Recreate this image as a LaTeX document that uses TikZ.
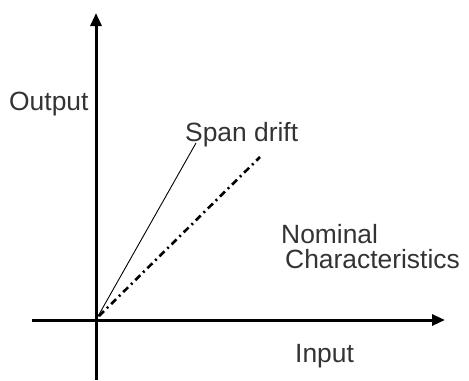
\documentclass[tikz,border=0pt]{standalone}
\usepackage{fontspec}
\setmainfont{Liberation Sans}
\usetikzlibrary{arrows.meta}
\begin{document}
\begin{tikzpicture}[x=1bp, y=-1bp, every node/.style={inner sep=0pt, font=\fontsize{26.5}{30}\selectfont, text=black!80}]
\useasboundingbox (0,0) rectangle (469,380);
\coordinate (O) at (96,320);
\coordinate (ybot) at (96,380);
\coordinate (ytop) at (96,13);
\coordinate (xleft) at (32,320);
\coordinate (xright) at (445,320);
\coordinate (span) at (196,143);
\coordinate (nom) at (260,157);
\draw[line width=3bp, -{Triangle[length=13bp,width=11bp]}] (ybot) -- (ytop);
\draw[line width=3bp, -{Triangle[length=13bp,width=11bp]}] (xleft) -- (xright);
\draw[line width=0.9bp] ([shift={(1,-2)}]O) -- (span);
\draw[line width=2.6bp, dash pattern=on 7bp off 4bp on 2bp off 4bp] ([shift={(3,-4)}]O) -- (nom);
\node[anchor=base west] (output) at (9,110) {Output};
\node[anchor=base west] (spandrift) at (185,141) {Span drift};
\node[anchor=base west] (nominal) at (281,243) {Nominal};
\node[anchor=base west] (charact) at (285,268) {Characteristics};
\node[anchor=base west] (input) at (295,362) {Input};
\end{tikzpicture}
\end{document}
